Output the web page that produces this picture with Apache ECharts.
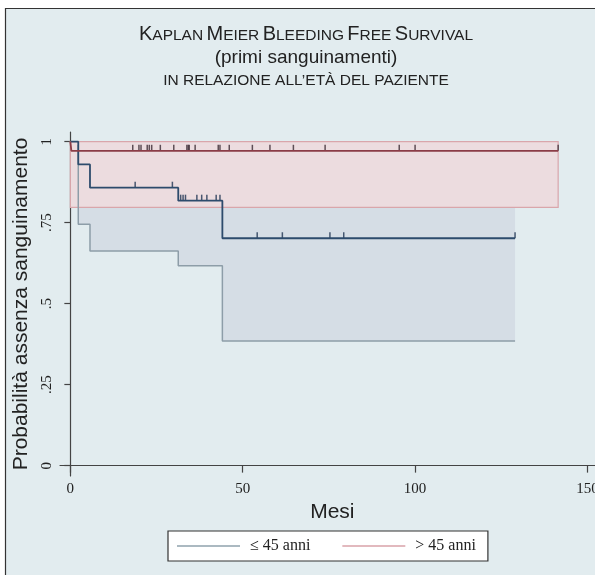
<!DOCTYPE html>
<html><head><meta charset="utf-8">
<script src="https://cdn.jsdelivr.net/npm/echarts@6/dist/echarts.min.js"></script>
<style>html,body{margin:0;padding:0;background:#fff}#c{width:595px;height:575px}</style>
</head><body><div id="c"></div>
<script>
// ---- data ----
const xTicks = [0, 50, 100, 150];
const yTicks = [0, 0.25, 0.5, 0.75, 1];
const yTickLabels = ['0', '.25', '.5', '.75', '1'];
const groups = ['≤ 45 anni', '> 45 anni'];

// group ≤ 45
const youngTimes = [0, 2.3, 5.7, 31.3, 44.1, 129];
const youngSurv = [1, 0.93, 0.858, 0.818, 0.702, 0.702];
const youngCiTimes = [2.3, 5.7, 31.3, 44.1, 129];
const youngCiLow = [0.745, 0.663, 0.617, 0.385];
const youngCiHigh = [0.99, 0.98, 0.96, 0.93];
const youngCensor = [18.8, 29.6, 32.0, 32.7, 33.4, 36.7, 38.1, 39.6, 42.3, 43.4, 54.2, 61.5, 75.3, 79.3, 129];

// group > 45
const oldTimes = [0, 0.3, 141.5];
const oldSurv = [1, 0.972, 0.972];
const oldCiTimes = [0, 141.5];
const oldCiLow = [0.797];
const oldCiHigh = [1];
const oldCensor = [18.1, 19.9, 20.5, 22.3, 22.9, 23.6, 26.1, 30.0, 33.8, 34.2, 34.5, 36.2, 42.9, 43.4, 46.1, 52.8, 57.9, 64.7, 73.9, 95.4, 100.0, 141.5];

// ---- helpers ----
function zip(a, b) { return a.map((v, i) => [v, b[i]]); }
function survAt(times, surv, t) {
  let v = surv[0];
  for (let i = 0; i < times.length; i++) if (times[i] <= t) v = surv[i];
  return v;
}
function bandSeries(times, lo, hi, fill, stroke) {
  return {
    type: 'custom', silent: true,
    data: [[times[0], lo[0]]],
    renderItem: function (params, api) {
      const pts = [];
      for (let i = 0; i < lo.length; i++) {
        pts.push(api.coord([times[i], hi[i]]));
        pts.push(api.coord([times[i + 1], hi[i]]));
      }
      for (let i = lo.length - 1; i >= 0; i--) {
        pts.push(api.coord([times[i + 1], lo[i]]));
        pts.push(api.coord([times[i], lo[i]]));
      }
      return { type: 'polygon', shape: { points: pts },
        style: { fill: fill, stroke: stroke || null, lineWidth: stroke ? 1.2 : 0 } };
    }
  };
}
function lowerLine(times, lo, hi) {
  const pts = [[times[0], hi[0]]];
  for (let i = 0; i < lo.length; i++) pts.push([times[i], lo[i]]);
  pts.push([times[times.length - 1], lo[lo.length - 1]]);
  return pts;
}

const serif = 'Liberation Serif';
const sans = 'Liberation Sans';
const chart = echarts.init(document.getElementById('c'));
chart.setOption({
  backgroundColor: '#ffffff',
  animation: false,
  graphic: [
    { type: 'rect', z: -100, shape: { x: 5.5, y: 8.5, width: 640, height: 640 },
      style: { fill: '#e2ecef', stroke: '#333', lineWidth: 1.2 } },
    { type: 'text', z: 10, style: {
        x: 306, y: 34, align: 'center', verticalAlign: 'middle',
        text: '{b|K}{s|APLAN} {b|M}{s|EIER} {b|B}{s|LEEDING} {b|F}{s|REE} {b|S}{s|URVIVAL}',
        fill: '#222', fontFamily: sans,
        rich: { b: { fontSize: 20, fontFamily: sans, fill: '#222', verticalAlign: 'bottom' },
                s: { fontSize: 15.5, fontFamily: sans, fill: '#222', verticalAlign: 'bottom' } } } },
    { type: 'text', z: 10, style: { x: 306, y: 58, align: 'center', verticalAlign: 'middle',
        text: '(primi sanguinamenti)', fontSize: 19, fontFamily: sans, fill: '#222' } },
    { type: 'text', z: 10, style: { x: 306, y: 81, align: 'center', verticalAlign: 'middle',
        text: 'IN RELAZIONE ALL’ETÀ DEL PAZIENTE', fontSize: 15.5, fontFamily: sans, fill: '#222' } }
  ],
  grid: { left: 60, top: 132, right: -9.7, bottom: 99, containLabel: false, outerBoundsMode: 'none' },
  xAxis: {
    type: 'value', min: -3, max: 155,
    axisLine: { show: true, lineStyle: { color: '#444', width: 1.2 } },
    axisTick: { show: true, customValues: xTicks, length: 7, lineStyle: { color: '#444', width: 1.2 } },
    axisLabel: { customValues: xTicks, margin: 6, fontFamily: serif, fontSize: 15, color: '#222' },
    splitLine: { show: false },
    name: 'Mesi', nameLocation: 'middle', nameGap: 24,
    nameTextStyle: { fontFamily: sans, fontSize: 21, color: '#222' }
  },
  yAxis: {
    type: 'value', min: -0.032, max: 1.03,
    axisLine: { show: true, lineStyle: { color: '#444', width: 1.2 } },
    axisTick: { show: true, customValues: yTicks, length: 6, lineStyle: { color: '#444', width: 1.2 } },
    axisLabel: { customValues: yTicks, rotate: 90, margin: 5, fontFamily: serif, fontSize: 15, color: '#222',
      formatter: v => { const i = yTicks.findIndex(t => Math.abs(t - v) < 1e-9); return i >= 0 ? yTickLabels[i] : ''; } },
    splitLine: { show: false },
    name: 'Probabilità assenza sanguinamento', nameLocation: 'middle', nameGap: 27,
    nameTextStyle: { fontFamily: sans, fontSize: 21, color: '#222' }
  },
  legend: {
    left: 168, top: 531, orient: 'horizontal',
    padding: [7, 12, 7, 9], itemGap: 32,
    backgroundColor: '#ffffff', borderColor: '#333', borderWidth: 1.2, borderRadius: 0,
    icon: 'rect', itemWidth: 63, itemHeight: 1.5,
    textStyle: { fontFamily: serif, fontSize: 16, color: '#222', padding: [0, 0, 0, 5] },
    data: [
      { name: groups[0], itemStyle: { color: '#8fa2ad' } },
      { name: groups[1], itemStyle: { color: '#d9a2a8' } }
    ],
    selectedMode: false
  },
  series: [
    bandSeries(youngCiTimes, youngCiLow, youngCiHigh, '#d5dde5', null),
    { type: 'line', step: 'end', symbol: 'none', silent: true,
      data: lowerLine(youngCiTimes, youngCiLow, youngCiHigh),
      lineStyle: { color: '#8d9da8', width: 1.5 } },
    bandSeries(oldCiTimes, oldCiLow, oldCiHigh, '#ecdcdf', '#d9a6ab'),
    { name: groups[0], type: 'line', step: 'end', symbol: 'none', silent: true,
      data: zip(youngTimes, youngSurv), itemStyle: { color: '#8fa2ad' },
      lineStyle: { color: '#2d4b6c', width: 1.8 } },
    { name: groups[1], type: 'line', step: 'end', symbol: 'none', silent: true,
      data: zip(oldTimes, oldSurv), itemStyle: { color: '#d9a2a8' },
      lineStyle: { color: '#8b3c47', width: 1.8 } },
    { type: 'scatter', silent: true, symbol: 'rect', symbolSize: [1.5, 6], symbolOffset: [0, -3],
      data: youngCensor.map(t => [t, survAt(youngTimes, youngSurv, t)]),
      itemStyle: { color: '#1f3553' } },
    { type: 'scatter', silent: true, symbol: 'rect', symbolSize: [1.5, 6], symbolOffset: [0, -3],
      data: oldCensor.map(t => [t, survAt(oldTimes, oldSurv, t)]),
      itemStyle: { color: '#3b2a33' } }
  ]
});
</script></body></html>
